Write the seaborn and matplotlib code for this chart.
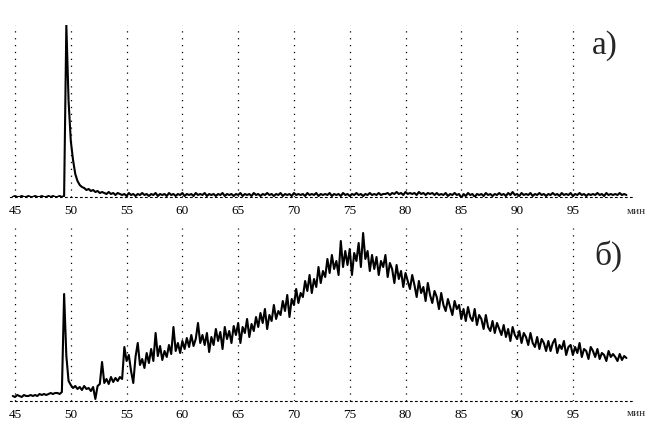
import numpy as np
import matplotlib
matplotlib.use("Agg")
import matplotlib.pyplot as plt
import seaborn as sns

# ---- data (signal height above baseline) ----
start_min = 44.8
step_min = 0.2

signal_a = [
    -1, 0, -1, -1, 0, -1, -1, 0, -1, -1,
    0, -1, -1, 0, -1, -1, 0, -1, 0, -1,
    -1, 0, -1, 0, 171, 95, 55, 36, 22, 15,
    11, 9, 8, 6, 7, 5, 6, 4, 5, 3,
    4, 3, 2, 4, 2, 3, 1, 3, 2, 1,
    2, 0, 3, 1, 2, 0, 2, 1, 3, 1,
    2, 0, 2, 1, 3, 0, 2, 1, 2, 0,
    3, 1, 2, 0, 2, 1, 3, 0, 2, 1,
    2, 0, 3, 1, 2, 1, 3, 0, 2, 1,
    2, 0, 2, 1, 3, 0, 2, 1, 2, 0,
    2, 1, 3, 0, 2, 1, 2, 0, 3, 1,
    2, 0, 2, 1, 3, 1, 2, 0, 2, 1,
    3, 0, 2, 1, 2, 0, 3, 1, 2, 1,
    2, 0, 3, 1, 2, 1, 3, 0, 2, 1,
    2, 1, 3, 0, 2, 1, 2, 0, 3, 1,
    2, 0, 2, 1, 3, 1, 2, 0, 2, 1,
    3, 1, 2, 1, 3, 1, 2, 2, 3, 1,
    3, 2, 4, 2, 3, 1, 4, 2, 3, 2,
    3, 1, 4, 2, 3, 1, 3, 2, 3, 1,
    3, 1, 2, 1, 3, 0, 2, 1, 3, 1,
    2, -2, 2, 0, 3, 1, 2, -1, 2, 1,
    2, 0, 3, 1, 2, 0, 2, 1, 3, 1,
    2, 0, 3, 1, 4, 1, 2, 0, 3, 1,
    2, 1, 3, 0, 2, 1, 3, 1, 2, 0,
    2, 1, 3, 1, 2, 0, 3, 1, 2, 1,
    3, 0, 2, 1, 3, 1, 2, 0, 2, 1,
    2, 1, 3, 1, 2, 0, 3, 1, 2, 1,
    2, 1, 3, 1, 2, 1,
]

signal_b = [
    5, 4, 6, 5, 4, 6, 5, 5, 6, 5,
    6, 5, 7, 6, 7, 6, 7, 8, 7, 8,
    8, 7, 9, 107, 45, 20, 16, 13, 15, 12,
    14, 11, 15, 12, 13, 10, 14, 2, 15, 17,
    39, 18, 22, 17, 24, 19, 23, 20, 24, 22,
    54, 40, 46, 30, 18, 44, 58, 36, 42, 33,
    48, 38, 52, 40, 68, 45, 55, 41, 50, 44,
    56, 47, 74, 50, 58, 48, 60, 52, 63, 54,
    66, 55, 62, 78, 58, 66, 56, 68, 49, 64,
    56, 72, 60, 69, 52, 74, 62, 70, 58, 75,
    66, 78, 58, 74, 68, 82, 64, 77, 70, 84,
    74, 88, 78, 92, 72, 86, 80, 96, 82, 90,
    86, 100, 90, 106, 84, 102, 96, 112, 98, 108,
    104, 120, 110, 126, 108, 122, 114, 134, 118, 130,
    124, 142, 128, 146, 132, 140, 126, 160, 134, 150,
    136, 152, 126, 148, 140, 158, 134, 168, 142, 150,
    130, 146, 132, 144, 126, 140, 134, 146, 124, 138,
    132, 118, 136, 122, 130, 114, 128, 120, 112, 126,
    116, 104, 120, 108, 114, 100, 118, 106, 98, 110,
    104, 92, 108, 96, 90, 102, 94, 86, 100, 92,
    96, 82, 92, 80, 94, 84, 80, 92, 76, 86,
    82, 72, 86, 74, 70, 80, 68, 78, 72, 66,
    76, 64, 72, 60, 74, 66, 62, 70, 58, 68,
    64, 56, 68, 58, 54, 64, 52, 62, 58, 50,
    60, 50, 58, 62, 48, 56, 52, 60, 46, 54,
    56, 46, 54, 48, 58, 44, 52, 50, 42, 54,
    50, 44, 52, 42, 48, 46, 40, 50, 44, 47,
    44, 40, 47, 41, 45, 43,
]

tick_values = [45, 50, 55, 60, 65, 70, 75, 80, 85, 90, 95]
tick_labels = ["45", "50", "55", "60", "65", "70", "75", "80", "85", "90", "95"]
panel_labels = ["а)", "б)"]
unit_label = "мин"

# ---- figure ----
sns.set_style("white")
plt.rcParams["font.family"] = ["Liberation Serif", "DejaVu Serif"]

W, H = 651, 421
fig = plt.figure(figsize=(W / 100, H / 100), dpi=100)

x_left_px, x_right_px = 10, 632
xlim = (44.55, 100.3)


def px_axes(top_px, bottom_px):
    return fig.add_axes([x_left_px / W, 1 - bottom_px / H,
                         (x_right_px - x_left_px) / W, (bottom_px - top_px) / H])


ax_a = px_axes(25, 197)
ax_b = px_axes(228, 401)

for ax, sig, ylim in ((ax_a, signal_a, (-1, 171)), (ax_b, signal_b, (0, 173))):
    t = start_min + step_min * np.arange(len(sig))
    sns.lineplot(x=t, y=np.array(sig, dtype=float), ax=ax, color="black",
                 linewidth=1.5, estimator=None, zorder=3)
    ax.set_xlim(*xlim)
    ax.set_ylim(*ylim)
    ax.set_yticks([])
    ax.set_xticks(tick_values)
    ax.set_xticklabels(tick_labels, fontsize=9.5)
    ax.tick_params(axis="x", length=0, pad=5.5, colors="black")
    ax.xaxis.grid(True, linestyle=(0, (1, 4.5)), color="black", linewidth=0.9)
    ax.yaxis.grid(False)
    for s in ("top", "left", "right"):
        ax.spines[s].set_visible(False)
    ax.spines["bottom"].set_linestyle((0, (1.5, 3)))
    ax.spines["bottom"].set_color("black")
    ax.spines["bottom"].set_linewidth(0.8)
    ax.set_xlabel("")
    ax.set_ylabel("")
    ax.set_facecolor("white")

fig.text(605 / W, 1 - 46 / H, panel_labels[0], fontsize=24, ha="center", va="center")
fig.text(608 / W, 1 - 256 / H, panel_labels[1], fontsize=24, ha="center", va="center")
fig.text(627 / W, 1 - 212 / H, unit_label, fontsize=8, ha="left", va="center")
fig.text(627 / W, 1 - 414 / H, unit_label, fontsize=8, ha="left", va="center")

fig.savefig("out.png", dpi=100, facecolor="white")
